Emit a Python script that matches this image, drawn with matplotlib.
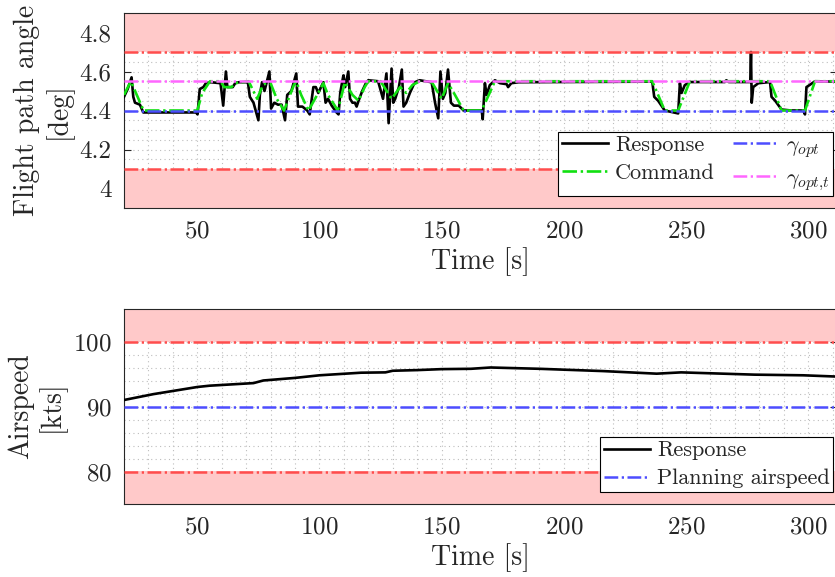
import numpy as np
import matplotlib
matplotlib.use("Agg")
import matplotlib.pyplot as plt
from matplotlib.ticker import MultipleLocator, FuncFormatter

plt.rcParams['font.family'] = 'serif'
plt.rcParams['font.serif'] = ['cmr10']
plt.rcParams['mathtext.fontset'] = 'cm'
plt.rcParams['axes.formatter.use_mathtext'] = True
plt.rcParams['text.color'] = '#262626'
plt.rcParams['axes.labelcolor'] = '#262626'
plt.rcParams['xtick.color'] = '#262626'
plt.rcParams['ytick.color'] = '#262626'

# ---- flight path angle: commanded knots (time [s], gamma [deg]) ----
cmd_t = [20, 22.8, 28, 50, 52, 55.2, 59.5, 61, 64, 65.5, 71, 74.5, 76.5, 78, 80,
         82.5, 85.5, 89.5, 90.5, 92.5, 95.5, 99.5, 101.6, 103.5, 107.5, 110.4,
         113.5, 116, 118.5, 120, 125, 129.5, 133, 135.5, 138, 141, 146, 150,
         152.6, 155, 159, 166.4, 171.8, 236.2, 241.3, 246.8, 251.6, 284.4,
         289.1, 298.7, 302.8, 312]
cmd_g = [4.48, 4.55, 4.40, 4.40, 4.49, 4.55, 4.55, 4.52, 4.52, 4.54, 4.55, 4.46,
         4.52, 4.54, 4.54, 4.46, 4.40, 4.53, 4.55, 4.48, 4.40, 4.49, 4.54, 4.48,
         4.40, 4.545, 4.48, 4.45, 4.52, 4.55, 4.55, 4.46, 4.52, 4.49, 4.53, 4.55,
         4.545, 4.46, 4.54, 4.49, 4.40, 4.40, 4.55, 4.55, 4.40, 4.40, 4.55,
         4.55, 4.40, 4.40, 4.55, 4.55]

# ---- flight path angle: response ----
resp_t = [20, 21.5, 23.1, 23.8, 24.5, 26.5, 27.9, 49.5, 50.1, 51.0, 52.5, 53.5,
          55.5, 59.5, 60.6, 61.7, 62.3, 64.5, 65.5, 67, 70.7, 71.5, 73, 75, 75.6,
          76.5, 77.5, 79.5, 80.2, 81.5, 83, 84.5, 85.9, 86.8, 88.5, 90.5, 91.2,
          93, 95, 96, 97.5, 98.5, 99.5, 101.6, 102.5, 103.5, 105, 107, 107.8,
          108.5, 109.2, 109.8, 110.5, 111.8, 112.5, 113.5, 114.5, 115.2, 116,
          117.5, 119, 120, 124, 126, 127.4, 128.3, 129.5, 130.2, 131, 132.5,
          133.7, 134.4, 135.5, 137, 139, 141, 145.9, 147.3, 148.6, 149.5, 150.5,
          151.5, 152.6, 153.8, 155, 157, 159, 166.4, 166.8, 167.7, 168.4, 169.7,
          171.8, 173.9, 176.6, 177.2, 178.5, 181.5, 236.2, 237, 238.6, 241.3,
          246.8, 247.5, 248.2, 249.5, 251.6, 265.9, 266.5, 267.5, 276.3, 276.6,
          276.9, 277.5, 279.6, 284.4, 285, 286.5, 289.1, 293, 298, 298.7, 299.3,
          300.5, 302.8, 312]
resp_g = [4.47, 4.51, 4.57, 4.47, 4.44, 4.43, 4.39, 4.39, 4.38, 4.51, 4.52, 4.54,
          4.545, 4.54, 4.425, 4.60, 4.52, 4.52, 4.54, 4.545, 4.545, 4.47, 4.44,
          4.35, 4.48, 4.545, 4.50, 4.60, 4.41, 4.44, 4.43, 4.43, 4.35, 4.48, 4.50,
          4.59, 4.42, 4.42, 4.40, 4.38, 4.52, 4.52, 4.49, 4.545, 4.44, 4.46, 4.425,
          4.39, 4.38, 4.49, 4.54, 4.58, 4.52, 4.60, 4.46, 4.44, 4.44, 4.42, 4.45,
          4.50, 4.54, 4.555, 4.55, 4.46, 4.59, 4.335, 4.615, 4.44, 4.46, 4.52,
          4.61, 4.42, 4.44, 4.49, 4.545, 4.555, 4.545, 4.44, 4.36, 4.60, 4.46,
          4.49, 4.61, 4.44, 4.425, 4.425, 4.40, 4.40, 4.355, 4.54, 4.48, 4.53,
          4.555, 4.54, 4.535, 4.52, 4.54, 4.545, 4.548, 4.47, 4.45, 4.40, 4.385,
          4.54, 4.49, 4.53, 4.546, 4.546, 4.555, 4.546, 4.546, 4.70, 4.44, 4.52,
          4.54, 4.546, 4.47, 4.45, 4.405, 4.40, 4.40, 4.38, 4.52, 4.53, 4.55,
          4.548]

gamma_opt = 4.40
gamma_opt_t = 4.55
gamma_lim = (4.1, 4.7)

# ---- airspeed response ----
vel_t = [20, 32, 50, 55, 73, 77, 90, 100, 117, 127, 130, 140, 150, 162, 170,
         190, 216, 238, 248, 278, 298, 312]
vel_kts = [91.0, 91.9, 93.0, 93.2, 93.6, 94.0, 94.4, 94.8, 95.2, 95.25, 95.5,
           95.6, 95.75, 95.8, 96.0, 95.8, 95.45, 95.05, 95.25, 94.9, 94.8, 94.6]

v_plan = 90
v_lim = (80, 100)

PINK = '#FFC9C9'
RED = '#FF4D4D'
BLUE = '#4D4DFF'
MAGENTA = '#FF66FF'
GREEN = '#11E011'
DASHDOT = (0, (5.5, 1.4, 0.9, 1.4))
X_RANGE = (20, 311.8)


def style_axes(ax, xminor, yminor):
    ax.set_axisbelow(True)
    ax.xaxis.set_major_locator(MultipleLocator(50))
    ax.xaxis.set_minor_locator(MultipleLocator(xminor))
    ax.yaxis.set_minor_locator(MultipleLocator(yminor))
    ax.grid(True, which='both', color='#bdbdbd', linestyle=(0, (1, 3)), linewidth=0.8)
    ax.tick_params(which='both', direction='in', top=True, right=True, labelsize=18,
                   color='#262626', pad=9)
    ax.tick_params(which='major', length=5)
    ax.tick_params(which='minor', length=0)
    for s in ax.spines.values():
        s.set_color('#262626')
        s.set_linewidth(0.8)
    ax.set_xlabel('Time [s]', fontsize=20, labelpad=3)


def limit_bands(ax, lo, hi, ymin, ymax):
    ax.axhspan(hi, ymax, color=PINK, lw=0, zorder=1)
    ax.axhspan(ymin, lo, color=PINK, lw=0, zorder=1)
    ax.axhline(hi, color=RED, lw=1.8, linestyle=DASHDOT, zorder=4)
    ax.axhline(lo, color=RED, lw=1.8, linestyle=DASHDOT, zorder=4)


def legend_box(ax, handles, anchor, **kw):
    leg = ax.legend(handles=handles, loc='lower right', bbox_to_anchor=anchor,
                    borderaxespad=0, fontsize=16, fancybox=False, framealpha=1,
                    edgecolor='black', handlelength=2.1, handletextpad=0.3,
                    labelspacing=0.38, borderpad=0.15, **kw)
    leg.get_frame().set_linewidth(0.8)
    leg.set_zorder(10)
    return leg


fig = plt.figure(figsize=(8.35, 5.77), dpi=100)
ax1 = fig.add_axes([124 / 835, 1 - 208 / 577, 713 / 835, 195 / 577])
ax2 = fig.add_axes([124 / 835, 1 - 504 / 577, 713 / 835, 195 / 577])

# top: flight path angle
limit_bands(ax1, gamma_lim[0], gamma_lim[1], 3.9, 4.9)
h_resp, = ax1.plot(resp_t, resp_g, color='black', lw=1.9, zorder=3, label='Response')
h_cmd, = ax1.plot(cmd_t, cmd_g, color=GREEN, lw=1.9, linestyle=DASHDOT, zorder=3.5,
                  label='Command')
h_opt = ax1.axhline(gamma_opt, color=BLUE, lw=1.8, linestyle=DASHDOT, zorder=4,
                    label=r'$\gamma_{opt}$')
h_optt = ax1.axhline(gamma_opt_t, color=MAGENTA, lw=1.8, linestyle=DASHDOT, zorder=4,
                     label=r'$\gamma_{opt{,}t}$')
ax1.set_xlim(*X_RANGE)
ax1.set_ylim(3.9, 4.9)
ax1.set_yticks([4.0, 4.2, 4.4, 4.6, 4.8])
ax1.yaxis.set_major_formatter(FuncFormatter(lambda v, p: f'{v:g}'))
style_axes(ax1, 10, 0.05)
ax1.set_ylabel('Flight path angle\n[deg]', fontsize=20, linespacing=1.15, labelpad=5)
legend_box(ax1, [h_resp, h_cmd, h_opt, h_optt], (0.9945, 0.062), ncol=2,
           columnspacing=0.8)

# bottom: airspeed
limit_bands(ax2, v_lim[0], v_lim[1], 75, 105)
h_v, = ax2.plot(vel_t, vel_kts, color='black', lw=1.9, zorder=3, label='Response')
h_plan = ax2.axhline(v_plan, color=BLUE, lw=1.8, linestyle=DASHDOT, zorder=4,
                     label='Planning airspeed')
ax2.set_xlim(*X_RANGE)
ax2.set_ylim(75, 105)
ax2.set_yticks([80, 90, 100])
style_axes(ax2, 10, 2)
ax2.set_ylabel('Airspeed\n[kts]', fontsize=20, linespacing=1.15, labelpad=5)
legend_box(ax2, [h_v, h_plan], (0.9945, 0.063))

fig.savefig('out.png', dpi=100)
